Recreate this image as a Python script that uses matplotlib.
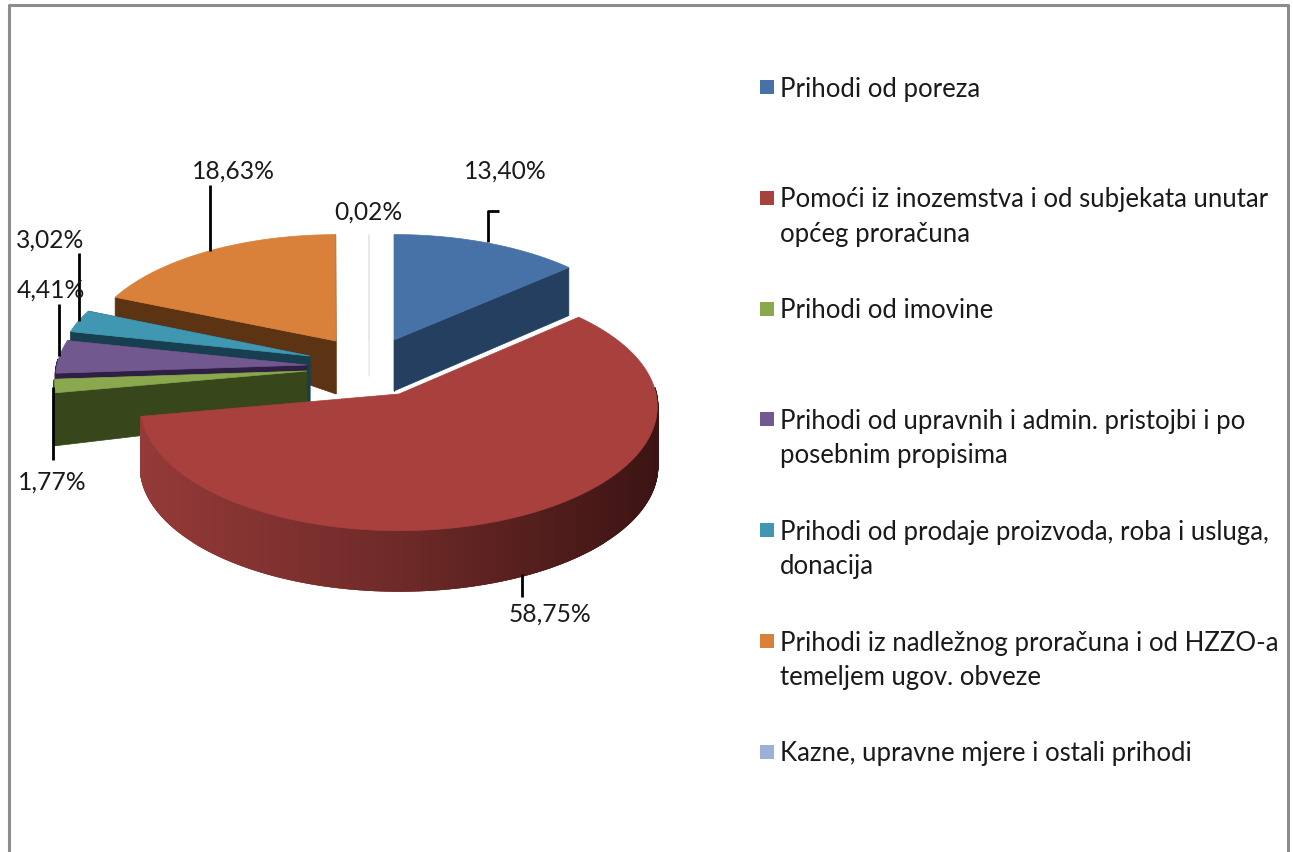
#!/usr/bin/env python

import matplotlib.pyplot as plt
import numpy as np
from matplotlib.colors import LinearSegmentedColormap

plt.rcParams["font.family"] = ["Lato", "DejaVu Sans"]

names = [
    "Prihodi od poreza",
    "Pomoći iz inozemstva i od subjekata unutar\nopćeg proračuna",
    "Prihodi od imovine",
    "Prihodi od upravnih i admin. pristojbi i po\nposebnim propisima",
    "Prihodi od prodaje proizvoda, roba i usluga,\ndonacija",
    "Prihodi iz nadležnog proračuna i od HZZO-a\ntemeljem ugov. obveze",
    "Kazne, upravne mjere i ostali prihodi",
]
shares = [13.40, 58.75, 1.77, 4.41, 3.02, 18.63, 0.02]
share_labels = ["13,40%", "58,75%", "1,77%", "4,41%", "3,02%", "18,63%", "0,02%"]

top_colors = ["#4672a8", "#a8403e", "#8aa84d", "#71588f", "#3f97b1", "#d9803a", "#e3e7ee"]
side_colors = ["#243f5f", "#6e2a28", "#37471b", "#2f1f45", "#173f4f", "#5c3413", "#e8ebf0"]
legend_colors = ["#4672a8", "#a8403e", "#8aa84d", "#71588f", "#3f97b1", "#d9803a", "#9bb1d8"]

# exploded slice centres and sizes, in pixels
apex = [(394, 341), (399, 395), (307, 372), (307, 366), (310, 357), (336, 342), (369, 341)]
radius = [250, 257, 251, 250, 250, 249, 250]
squash = [116, 123, 120, 120, 120, 117, 116]
depth_apex = [51, 60, 45, 45, 46, 53, 36]
depth_rim = [48, 60, 53, 12, 12, 21, 0]
perspective = 0.1

label_pos = [(505, 171), (550, 614), (52, 482), (51, 290), (50, 240), (233, 171), (368, 212)]
leaders = [
    [(488, 243), (488, 212), (499, 212)],
    [(522, 575), (522, 598)],
    [(53, 388), (53, 461)],
    [(59, 357), (59, 305)],
    [(79, 322), (79, 254)],
    [(210, 252), (210, 186)],
]

red_side = LinearSegmentedColormap.from_list("red_side", ["#943a38", "#6e2a28", "#3c1413"])


def rim_point(i, theta):
    s = 1 / (1 + perspective * np.cos(theta))
    x = apex[i][0] + radius[i] * np.sin(theta) * s
    y = apex[i][1] - squash[i] * np.cos(theta) * s
    return x, y


def draw_slice(ax, i, start, end):
    ax0, ay0 = apex[i]
    thetas = np.linspace(start, end, max(int((end - start) * 200), 2))
    xs, ys = rim_point(i, thetas)

    # rim of the slice, only the part facing the viewer, red one shaded left to right
    for j in range(len(thetas) - 1):
        if np.cos(thetas[j]) > 0.05 and np.cos(thetas[j + 1]) > 0.05:
            continue
        color = side_colors[i]
        if i == 1:
            color = red_side((xs[j] - 141) / 516)
        ax.fill(
            [xs[j], xs[j + 1], xs[j + 1], xs[j]],
            [ys[j], ys[j + 1], ys[j + 1] + depth_rim[i], ys[j] + depth_rim[i]],
            color=color,
            linewidth=1.5,
        )

    # cut faces
    for x, y in ((xs[-1], ys[-1]), (xs[0], ys[0])):
        if i != 1:
            ax.fill(
                [ax0, x, x, ax0],
                [ay0, y, y + depth_rim[i], ay0 + depth_apex[i]],
                color=side_colors[i],
                linewidth=0.5,
            )

    ax.fill(
        np.r_[ax0, xs],
        np.r_[ay0, ys],
        color=top_colors[i],
        linewidth=0.5,
    )


def draw():
    fig = plt.figure(figsize=(12.93, 8.53), dpi=100)
    ax = fig.add_axes([0, 0, 1, 1])
    ax.set_xlim(0, 1293)
    ax.set_ylim(853, 0)
    ax.set_axis_off()

    # frame of the sheet
    ax.plot([9, 9, 1288, 1288], [853, 6, 6, 853], color="#8c8c8c", linewidth=2.2)

    bounds = np.r_[0, np.cumsum(shares)] / 100 * 2 * np.pi
    for i in [5, 6, 4, 3, 2, 0, 1]:
        draw_slice(ax, i, bounds[i], bounds[i + 1])

    for line in leaders:
        xs, ys = zip(*line)
        ax.plot(xs, ys, color="black", linewidth=2, solid_capstyle="butt")

    for text, (x, y) in zip(share_labels, label_pos):
        ax.text(x, y, text, fontsize=17.7, color="#1a1a1a", ha="center", va="center")

    # legend
    for i, name in enumerate(names):
        y = 88 + i * 110.8
        ax.fill(
            [760, 774, 774, 760],
            [y - 7, y - 7, y + 7, y + 7],
            color=legend_colors[i],
            linewidth=0,
        )
        for j, line in enumerate(name.split("\n")):
            ax.text(780, y + 1 + j * 34.5, line, fontsize=18.5, color="#1a1a1a", va="center")

    plt.savefig("out.png", dpi=100)


draw()
